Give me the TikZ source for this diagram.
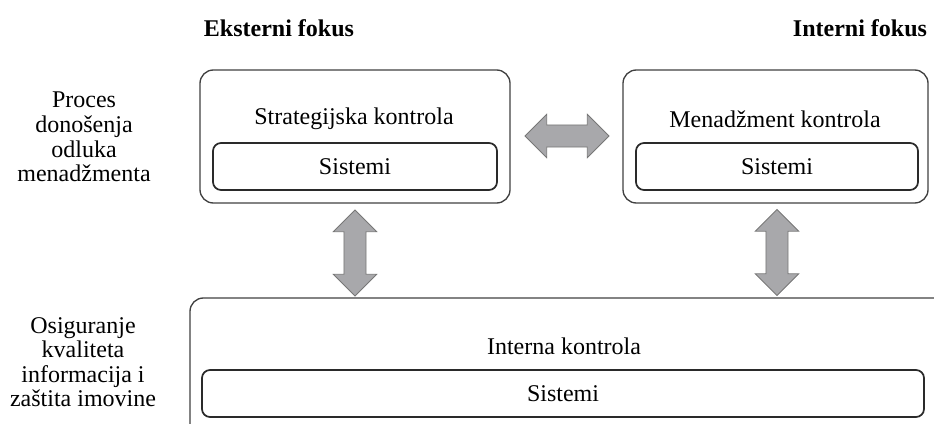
\documentclass[tikz,border=0pt]{standalone}
\usepackage{fontspec}
\setmainfont{Liberation Serif}
\usetikzlibrary{shapes.arrows}
\definecolor{boxline}{HTML}{404040}
\definecolor{sysline}{HTML}{2A2A2A}
\definecolor{arrowfill}{HTML}{A8A8AB}
\definecolor{arrowline}{HTML}{777777}

\begin{document}
\begin{tikzpicture}[x=0.75pt,y=-0.75pt,
  every node/.style={font=\fontsize{18}{18.4}\selectfont},
  outerbox/.style={draw=boxline, line width=1pt, rounded corners=10pt, inner sep=0pt},
  sysbox/.style={draw=sysline, line width=1.3pt, rounded corners=6pt, minimum height=35.25pt, inner sep=0pt},
  focus/.style={font=\fontsize{18}{18.4}\bfseries\selectfont},
  blockarrow/.style={double arrow, draw=arrowline, fill=arrowfill, line width=0.6pt,
    minimum width=32pt, double arrow head extend=8pt, double arrow tip angle=90, inner sep=8pt}]
\clip (0,0) rectangle (934,424);

% titles
\node[focus] (ext) at (279,28) {Eksterni fokus};
\node[focus] (int) at (860,28) {Interni fokus};

% side labels
\node[align=center] (proces) at (84,137) {Proces\\donošenja\\odluka\\menadžmenta};
\node[align=center] (osig) at (83,362) {Osiguranje\\kvaliteta\\informacija i\\zaštita imovine};

% top boxes
\node[outerbox, minimum width=232.5pt, minimum height=99.75pt] (strat) at (355,136.5) {};
\node (strattxt) at (354,119) {Strategijska kontrola};
\node[sysbox, minimum width=213pt] (stratsys) at (355,166.5) {Sistemi};

\node[outerbox, minimum width=228.75pt, minimum height=99.75pt] (men) at (775.5,136.5) {};
\node (mentxt) at (775,119) {Menadžment kontrola};
\node[sysbox, minimum width=211.5pt] (mensys) at (777,166.5) {Sistemi};

% bottom box
\draw[outerbox] (190,298) rectangle (950,445);
\node (inttxt) at (564,346) {Interna kontrola};
\node[sysbox, minimum width=541.5pt] (intsys) at (563,393.5) {Sistemi};

% block arrows
\node[blockarrow, minimum height=63pt] (h) at (567,136) {};
\node[blockarrow, minimum height=64.5pt, rotate=90] (vl) at (355,253) {};
\node[blockarrow, minimum height=64.5pt, rotate=90] (vr) at (777,252.5) {};
\end{tikzpicture}
\end{document}
